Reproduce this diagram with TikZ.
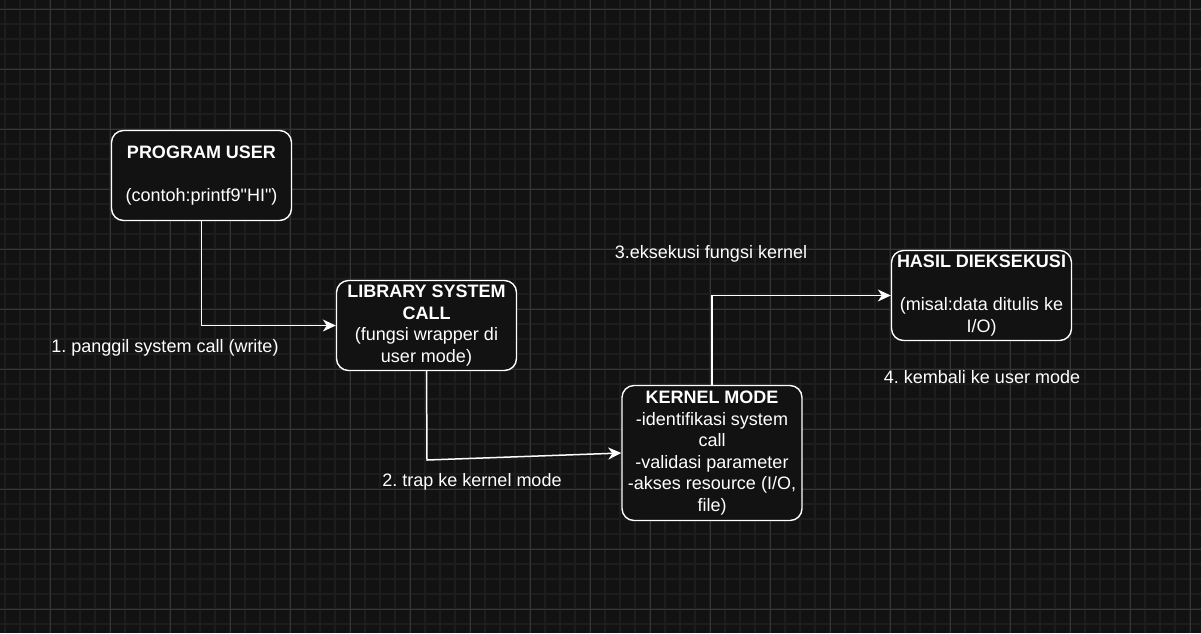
\documentclass[tikz,border=0pt]{standalone}
\usepackage{fontspec}
\setmainfont{Liberation Sans}[Ligatures=TeXOff]
\frenchspacing
\usetikzlibrary{arrows.meta}
\definecolor{bgdark}{HTML}{121212}
\definecolor{gridminor}{HTML}{1D1D1D}
\definecolor{gridmajor}{HTML}{363636}

\begin{document}
\begin{tikzpicture}[x=1pt, y=-1pt,
  every node/.style={text=white, font=\fontsize{18}{21.6}\selectfont},
  box/.style={draw=white, line width=1.4pt, fill=bgdark, rounded corners=12pt, minimum width=180pt, minimum height=90pt, align=center, inner sep=0pt},
  flow/.style={draw=white, line width=1.5pt, -{Stealth[length=13pt, width=12pt, inset=4pt]}},
  minorline/.style={draw=gridminor, line width=1.3pt},
  majorline/.style={draw=gridmajor, line width=1pt}]
  % background and grid
  \fill[bgdark] (0,0) rectangle (1201,633);
  \useasboundingbox (0,0) rectangle (1201,633);
  \foreach \x in {5,20,...,1200} \draw[minorline] (\x,0) -- (\x,633);
  \foreach \y in {9,24,...,633} \draw[minorline] (0,\y) -- (1201,\y);
  \foreach \x in {50,110,...,1200} \draw[majorline] (\x,0) -- (\x,633);
  \foreach \y in {9,69,...,633} \draw[majorline] (0,\y) -- (1201,\y);

  % boxes
  \node[box] (prog) at (201.5,175.5) {\textbf{PROGRAM USER}\\[21.6pt](contoh:printf9"HI")};
  \node[box] (lib) at (426.5,325.5) {\textbf{LIBRARY SYSTEM}\\\textbf{CALL}\\(fungsi wrapper di\\user mode)};
  \node[box, minimum height=135pt] (kern) at (712,453) {\textbf{KERNEL MODE}\\-identifikasi system\\call\\-validasi parameter\\-akses resource (I/O,\\file)};
  \node[box] (hasil) at (981.5,295.5) {\textbf{HASIL DIEKSEKUSI}\\[21.6pt](misal:data ditulis ke\\I/O)};

  % connectors
  \coordinate (bend) at (427,460);
  \draw[flow] (prog.south) |- (lib.west);
  \draw[flow] (lib.south) -- (bend) -- (kern.west);
  \draw[flow] (kern.north) |- (hasil.west);

  % labels
  \node (lab1) at (165,348) {1. panggil system call (write)};
  \node (lab2) at (472,482) {2. trap ke kernel mode};
  \node (lab3) at (711,254) {3.eksekusi fungsi kernel};
  \node (lab4) at (982,377) {4. kembali ke user mode};
\end{tikzpicture}
\end{document}
